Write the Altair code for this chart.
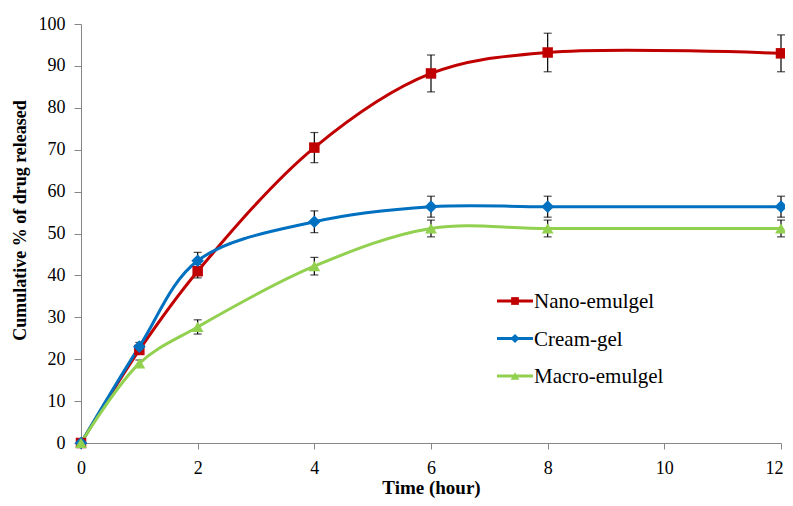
import altair as alt
import pandas as pd

time = [0, 1, 2, 4, 6, 8, 12]
series = ["Nano-emulgel", "Cream-gel", "Macro-emulgel"]
nano = [0, 22.2, 41.0, 70.5, 88.2, 93.2, 93.0]
nano_err = [0, 1.0, 1.6, 3.6, 4.4, 4.6, 4.4]
cream = [0, 23.0, 43.5, 52.8, 56.4, 56.4, 56.4]
cream_err = [0, 1.0, 2.0, 2.6, 2.5, 2.5, 2.5]
macro = [0, 19.0, 27.7, 42.2, 51.2, 51.2, 51.2]
macro_err = [0, 0.8, 1.7, 2.1, 2.0, 2.0, 2.0]

colors = ["#C00000", "#0070C0", "#92D050"]
shapes = ["square", "diamond", "triangle-up"]
sizes = [110, 160, 140]
legend_sizes = [60, 85, 75]

values = [nano, cream, macro]
errors = [nano_err, cream_err, macro_err]

FONT = "Liberation Serif"

xscale = alt.Scale(domain=[0, 12], nice=False)
yscale = alt.Scale(domain=[0, 100], nice=False)

xaxis = alt.Axis(values=list(range(0, 13, 2)), format="d", title="Time (hour)", labelFlush=False,
                 labelOffset={"expr": "datum.value == 12 ? -7 : 0"},
                 tickSize=6, labelPadding=10, titlePadding=1, titleFontSize=19)
yaxis = alt.Axis(values=list(range(0, 101, 10)), format="d", title="Cumulative  % of drug released",
                 tickSize=7, labelPadding=9, titlePadding=9, titleFontSize=18, titleY=196)

layers = []
# error bars
for i, name in enumerate(series):
    df = pd.DataFrame({"time": time, "val": values[i], "err": errors[i]})
    df = df[df["err"] > 0].copy()
    df["lo"] = df["val"] - df["err"]
    df["hi"] = df["val"] + df["err"]
    base = alt.Chart(df)
    layers.append(base.mark_rule(color="black", strokeWidth=1.2).encode(
        x=alt.X("time:Q", scale=xscale, axis=xaxis),
        y=alt.Y("lo:Q", scale=yscale, axis=yaxis),
        y2="hi:Q"))
    for col in ["lo", "hi"]:
        layers.append(base.mark_tick(color="black", orient="horizontal", size=8, thickness=1.2).encode(
            x=alt.X("time:Q", scale=xscale), y=alt.Y(f"{col}:Q", scale=yscale)))

# lines and markers
for i, name in enumerate(series):
    df = pd.DataFrame({"time": time, "val": values[i]})
    base = alt.Chart(df)
    layers.append(base.mark_line(color=colors[i], strokeWidth=3, interpolate="catmull-rom").encode(
        x=alt.X("time:Q", scale=xscale), y=alt.Y("val:Q", scale=yscale)))
for i, name in enumerate(series):
    df = pd.DataFrame({"time": time, "val": values[i]})
    base = alt.Chart(df)
    layers.append(base.mark_point(shape=shapes[i], filled=True, opacity=1, color=colors[i],
                                  size=sizes[i]).encode(
        x=alt.X("time:Q", scale=xscale), y=alt.Y("val:Q", scale=yscale)))

# manual legend (pixel positions inside plot area)
for i, name in enumerate(series):
    ly = 277 + 37.5 * i
    ldf = pd.DataFrame({"name": [name]})
    lb = alt.Chart(ldf)
    layers.append(lb.mark_rule(color=colors[i], strokeWidth=3).encode(
        x=alt.value(416), x2=alt.value(452), y=alt.value(ly)))
    layers.append(lb.mark_point(shape=shapes[i], filled=True, opacity=1, color=colors[i],
                                size=legend_sizes[i]).encode(
        x=alt.value(434), y=alt.value(ly)))
    layers.append(lb.mark_text(align="left", baseline="middle", font=FONT, fontSize=21,
                               color="black", dy=1).encode(
        x=alt.value(453), y=alt.value(ly), text="name:N"))

chart = alt.layer(*layers).properties(
    width=700, height=419,
    autosize=alt.AutoSizeParams(type="none"),
    padding={"left": 73, "top": 16, "right": 4, "bottom": 55},
).configure_view(stroke=None).configure_axis(
    grid=False, domainColor="#868686", tickColor="#868686", domainWidth=1,
    labelFont=FONT, labelFontSize=18, labelColor="black",
    titleFont=FONT, titleFontWeight="bold", titleColor="black",
)

chart.save("out.html", embed_options={"renderer": "svg", "actions": False})
